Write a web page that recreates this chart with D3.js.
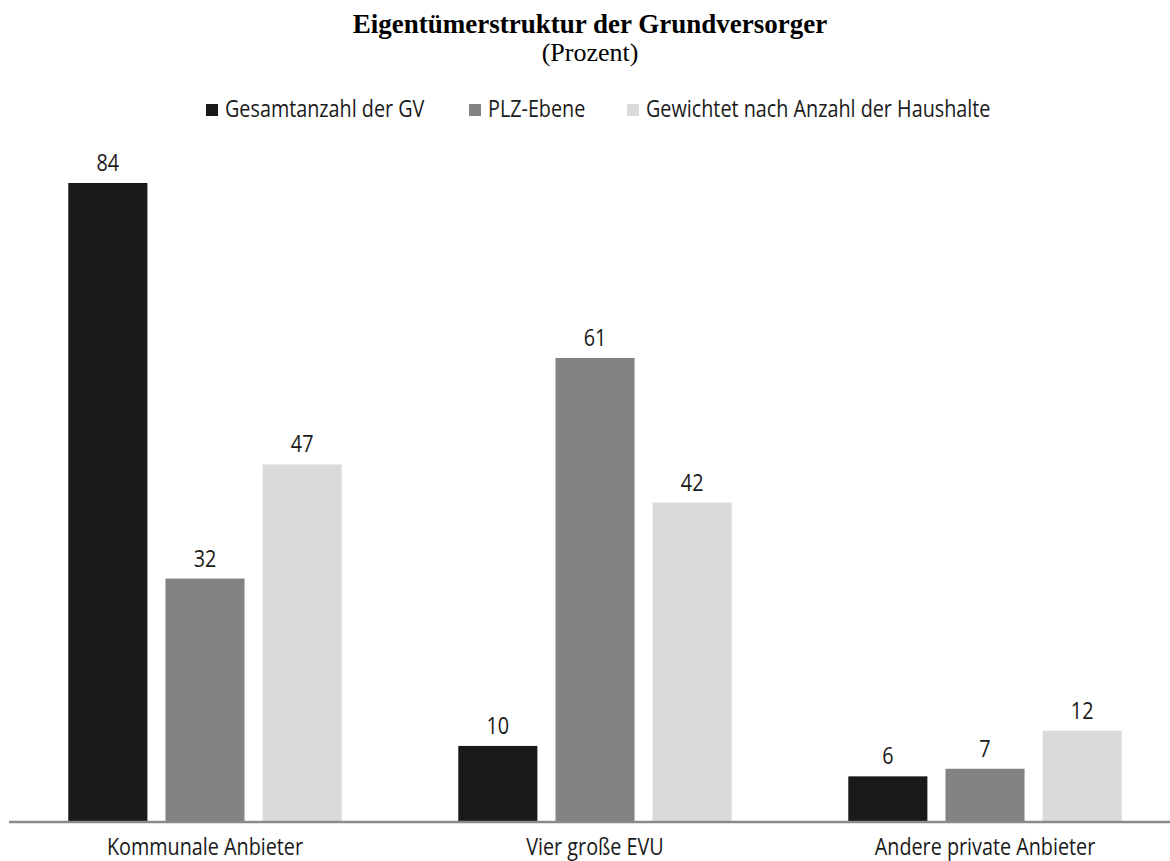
<!DOCTYPE html>
<html>
<head>
<meta charset="utf-8">
<script src="https://cdn.jsdelivr.net/npm/d3@7"></script>
<style>
  body { margin: 0; background: #fff; }
</style>
</head>
<body>
<svg width="1170" height="861"></svg>
<script>
// ~~~~~~ DATA ~~~~~~
var categories = ["Kommunale Anbieter", "Vier große EVU", "Andere private Anbieter"];
var seriesNames = ["Gesamtanzahl der GV", "PLZ-Ebene", "Gewichtet nach Anzahl der Haushalte"];
var gesamt = [84, 10, 6];
var plz = [32, 61, 7];
var gewichtet = [47, 42, 12];
var seriesColors = ["#181a19", "#828382", "#dbdad8"];

var seriesValues = [gesamt, plz, gewichtet];

// ~~~~~~ SVG ~~~~~~
var svg = d3.select("svg");
var baseline = 822;
var labelFont = "23px 'Open Sans', sans-serif";
var squeeze = "scale(0.86,1)"; // the source font is a narrow one

// ~~~~~~ SCALES ~~~~~~
var x0 = d3.scaleBand().domain(categories).range([10, 1180]).padding(0);
var x1 = d3.scaleBand().domain(seriesNames).range([0, x0.bandwidth()])
           .paddingInner(0.186).paddingOuter(0.6);
var y = d3.scaleLinear().domain([0, 84]).range([baseline, 183]);

// title
svg.append("text")
   .attr("x", 590).attr("y", 33)
   .attr("text-anchor", "middle")
   .style("font", "bold 27px 'Liberation Serif', serif")
   .attr("fill", "#000")
   .text("Eigentümerstruktur der Grundversorger");

svg.append("text")
   .attr("x", 590).attr("y", 61)
   .attr("text-anchor", "middle")
   .style("font", "26px 'Liberation Serif', serif")
   .attr("fill", "#000")
   .text("(Prozent)");

// ~~~~~~ LEGEND ~~~~~~
var legend_g = svg.append("g");
var legendX = [206, 469, 627];
seriesNames.forEach(function(name, i) {
	legend_g.append("rect")
		.attr("x", legendX[i]).attr("y", 104)
		.attr("width", 12).attr("height", 12)
		.attr("fill", seriesColors[i]);
	legend_g.append("text")
		.attr("transform", "translate(" + (legendX[i] + 19) + ",117) " + squeeze)
		.style("font", labelFont)
		.attr("fill", "#1a1a1a")
		.text(name);
});

// ~~~~~~ BARS ~~~~~~
var rows = [];
categories.forEach(function(c, ci) {
	seriesNames.forEach(function(s, si) {
		rows.push({cat: c, series: s, color: seriesColors[si], value: seriesValues[si][ci]});
	});
});

var bars_g = svg.append("g");

bars_g.selectAll(".bar")
	.data(rows)
	.enter()
	.append("rect")
	.attr("class", "bar")
	.attr("x", function(d) { return x0(d.cat) + x1(d.series); })
	.attr("y", function(d) { return y(d.value); })
	.attr("width", x1.bandwidth())
	.attr("height", function(d) { return baseline - y(d.value); })
	.attr("fill", function(d) { return d.color; });

bars_g.selectAll(".val")
	.data(rows)
	.enter()
	.append("text")
	.attr("class", "val")
	.attr("transform", function(d) {
		var cx = x0(d.cat) + x1(d.series) + x1.bandwidth() / 2;
		return "translate(" + cx + "," + (y(d.value) - 12) + ") " + squeeze;
	})
	.attr("text-anchor", "middle")
	.style("font", labelFont)
	.attr("fill", "#1a1a1a")
	.text(function(d) { return d.value; });

// ~~~~~~ AXIS ~~~~~~
var axis_g = svg.append("g")
	.attr("transform", "translate(0," + baseline + ")")
	.call(d3.axisBottom(x0).tickSize(0).tickPadding(17));

axis_g.select(".domain")
	.attr("d", "M9,0H1170")
	.attr("stroke", "#8a8a8a")
	.attr("stroke-width", 2.5);

axis_g.selectAll(".tick text")
	.attr("transform", squeeze)
	.style("font", labelFont)
	.attr("fill", "#1a1a1a");
</script>
</body>
</html>
